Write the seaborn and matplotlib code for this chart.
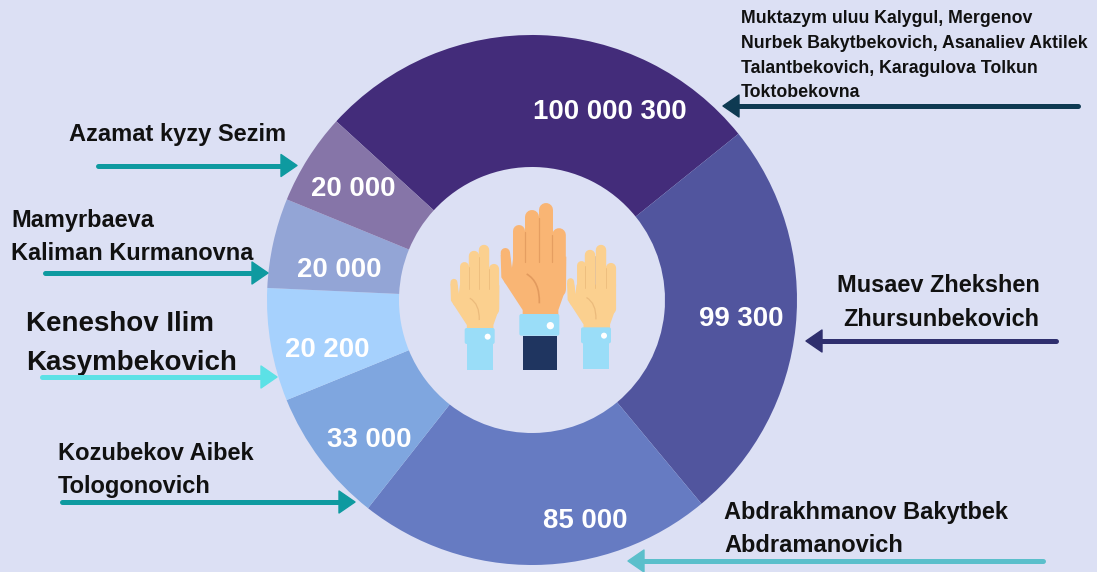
import matplotlib
matplotlib.use("Agg")
import matplotlib.pyplot as plt
import seaborn as sns
from matplotlib.patches import Circle, FancyBboxPatch, PathPatch, Polygon, Rectangle
from matplotlib.path import Path

# slice widths as drawn (degrees), they do not follow the printed amounts
slice_widths = [98.8, 89.1, 78.0, 29.6, 24.8, 19.7, 20.1]
slice_labels = ["100 000 300", "99 300", "85 000", "33 000", "20 200", "20 000", "20 000"]
slice_colors = ["#432C7A", "#51559E", "#667BC2", "#7FA6DF", "#A6D1FD", "#93A5D6", "#8675A8"]

names_top = ["Muktazym uluu Kalygul, Mergenov", "Nurbek Bakytbekovich, Asanaliev Aktilek",
             "Talantbekovich, Karagulova Tolkun", "Toktobekovna"]
names_musaev = ["Musaev Zhekshen", "Zhursunbekovich"]
names_abdr = ["Abdrakhmanov Bakytbek", "Abdramanovich"]
names_kozu = ["Kozubekov Aibek", "Tologonovich"]
names_kene = ["Keneshov Ilim", "Kasymbekovich"]
names_mamy = ["Mamyrbaeva", "Kaliman Kurmanovna"]
names_azam = ["Azamat kyzy Sezim"]

BG = "#DCE0F4"
W, H = 1097, 572

sns.set_theme(style="white", rc={"figure.facecolor": BG, "axes.facecolor": BG})
plt.rcParams["font.family"] = ["Liberation Sans", "DejaVu Sans"]


def flip(y):
    return H - y


def draw_arrow(ax, x_from, x_tip, y, color):
    side = 1 if x_from > x_tip else -1
    ax.plot([x_from - side * 2, x_tip + side * 10], [flip(y)] * 2, color=color, lw=3.6,
            solid_capstyle="round", zorder=4)
    head = [(x_tip, flip(y)), (x_tip + side * 16, flip(y - 11)), (x_tip + side * 16, flip(y + 11))]
    ax.add_patch(Polygon(head, closed=True, fc=color, ec=color, lw=1, joinstyle="round", zorder=4))


def draw_names(ax, lines, x, ys, size, ha="left", xs=None):
    for i, (line, y) in enumerate(zip(lines, ys)):
        ax.text(xs[i] if xs else x, flip(y + 2), line, fontsize=size, fontweight="bold",
                color="#111111", ha=ha, va="center")


def draw_hand(ax, wx, wy, s, skin, crease):
    # shape measured on the big middle hand, wrist at (331, 372) in zoomed units
    def pt(x, y):
        return (430 + (wx + (x - 331) * s) / 3, flip(190 + (wy + (y - 372) * s) / 3))

    def stroke(p0, p1, width):
        # zoomed units to points: /3 for pixels, *0.72 for points
        ax.plot(*zip(p0, p1), color=skin, lw=width * s / 3 * 0.72,
                solid_capstyle="round", zorder=5)

    for x, w, top in [(268, 36, 105), (306, 42, 60), (348, 42, 38), (388, 41, 113)]:
        stroke(pt(x, top + w / 2), pt(x, 300), w)
    stroke(pt(226, 188), pt(236, 270), 28)
    palm = [pt(212, 195), pt(214, 262), pt(278, 360), pt(278, 378), pt(385, 378), pt(385, 360),
            pt(408, 295), pt(409, 200), pt(250, 200), pt(245, 240), pt(240, 200), pt(226, 180)]
    ax.add_patch(Polygon(palm, closed=True, fc=skin, ec="none", zorder=5))
    for x, y0, y1 in [(285, 125, 215), (326, 85, 215), (367, 135, 215)]:
        ax.plot(*zip(pt(x, y0), pt(x, y1)), color=crease, lw=0.9 * s, alpha=0.6, zorder=6)
    curve = Path([pt(290, 252), pt(330, 275), pt(328, 340)], [Path.MOVETO, Path.CURVE3, Path.CURVE3])
    ax.add_patch(PathPatch(curve, fc="none", ec=crease, lw=1.2 * s, alpha=0.7, zorder=6))


def draw_cuff(ax, x0, x1, y0, y1, sx0, sx1, sy1, sleeve, dot_x, dot_y, dot_r):
    def px(x):
        return 430 + x / 3

    def py(y):
        return flip(190 + y / 3)

    ax.add_patch(Rectangle((px(sx0), py(sy1)), (sx1 - sx0) / 3, (sy1 - y1) / 3,
                           fc=sleeve, ec="none", zorder=7))
    ax.add_patch(FancyBboxPatch((px(x0), py(y1)), (x1 - x0) / 3, (y1 - y0) / 3,
                                boxstyle="round,pad=0,rounding_size=2", fc="#9ADDF8", ec="none", zorder=8))
    ax.add_patch(Circle((px(dot_x), py(dot_y)), dot_r / 3, fc="white", ec="none", zorder=9))


fig = plt.figure(figsize=(W / 100, H / 100), dpi=100, facecolor=BG)
ax = fig.add_axes([0, 0, 1, 1])

palette = sns.color_palette(slice_colors)
ax.pie(slice_widths, colors=palette, startangle=137.6, counterclock=False,
       center=(532, flip(300)), radius=265, frame=True,
       wedgeprops={"width": 132, "linewidth": 0})
ax.set_xlim(0, W)
ax.set_ylim(0, H)
ax.set_aspect("equal")
ax.axis("off")

label_spots = [(610, 112), (741, 319), (585, 521), (369, 440), (327, 350), (339, 270), (353, 189)]
for text, (x, y) in zip(slice_labels, label_spots):
    ax.text(x, flip(y), text, color="white", fontsize=19.9, fontweight="bold", ha="center", va="center")

draw_names(ax, names_top, 741, [16.5, 41.5, 66.5, 90.5], 12.8)
draw_names(ax, names_musaev, 0, [284, 317], 16.9, xs=[837, 843])
draw_names(ax, names_abdr, 724, [511, 544], 17)
draw_names(ax, names_kozu, 58, [452, 485], 17)
draw_names(ax, names_kene, 26, [322, 361], 20)
draw_names(ax, names_mamy, 11, [219, 252], 16.9)
draw_names(ax, names_azam, 69, [133], 17)

draw_arrow(ax, 1080, 723, 106, "#0E3A52")
draw_arrow(ax, 96, 297, 165.5, "#0E9AA0")
draw_arrow(ax, 43, 268, 273, "#0E9AA0")
draw_arrow(ax, 40, 277, 377, "#5CE1E6")
draw_arrow(ax, 60, 355, 502, "#0E9AA0")
draw_arrow(ax, 1045, 628, 561, "#5BBFCB")
draw_arrow(ax, 1058, 806, 341, "#2F2F6E")

# raised hands in the hole
draw_hand(ax, 150, 414, 0.745, "#FBD08F", "#E5B274")
draw_hand(ax, 500, 412, 0.745, "#FBD08F", "#E5B274")
draw_hand(ax, 331, 372, 1.0, "#F9B574", "#D98F55")
draw_cuff(ax, 104, 194, 414, 462, 110, 188, 540, "#9ADDF8", 173, 440, 9)
draw_cuff(ax, 453, 543, 412, 460, 459, 537, 537, "#9ADDF8", 522, 437, 9)
draw_cuff(ax, 268, 388, 372, 437, 278, 380, 540, "#1F3560", 361, 407, 11)

fig.savefig("out.png", dpi=100, facecolor=BG)
plt.close(fig)
